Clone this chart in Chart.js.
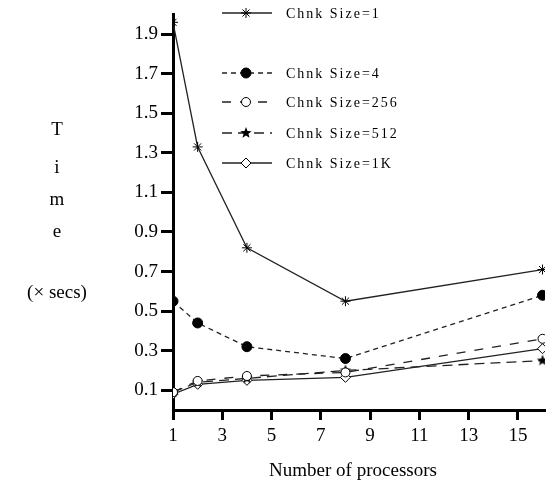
<!DOCTYPE html>
<html lang="en">
<head>
  <meta charset="UTF-8">
  <title>Time vs processors</title>
  <script src="https://cdn.jsdelivr.net/npm/chart.js"></script>
  <style>
    body { margin: 0; background: #fff; }
    #chart { display: block; }
  </style>
</head>
<body>
  <canvas id="chart" width="552" height="495"></canvas>
  <script>
    const procs = [1, 2, 4, 8, 16];
    const chunk1 = [1.96, 1.33, 0.82, 0.55, 0.71];
    const chunk4 = [0.55, 0.44, 0.32, 0.26, 0.58];
    const chunk256 = [0.09, 0.147, 0.172, 0.19, 0.36];
    const chunk512 = [0.09, 0.14, 0.16, 0.20, 0.25];
    const chunk1K = [0.08, 0.13, 0.15, 0.165, 0.31];
    const xTicks = [1, 3, 5, 7, 9, 11, 13, 15];
    const yTicks = [0.1, 0.3, 0.5, 0.7, 0.9, 1.1, 1.3, 1.5, 1.7, 1.9];

    const serif = '"Liberation Serif", "DejaVu Serif", serif';
    const ink = '#222';

    // filled five point star for the 512 series
    function makeStar(r) {
      const c = document.createElement('canvas');
      c.width = c.height = r * 2 + 2;
      const g = c.getContext('2d');
      g.translate(r + 1, r + 1);
      g.beginPath();
      for (let i = 0; i < 10; i++) {
        const rad = i % 2 === 0 ? r : r * 0.42;
        const a = -Math.PI / 2 + i * Math.PI / 5;
        g.lineTo(rad * Math.cos(a), rad * Math.sin(a));
      }
      g.closePath();
      g.fillStyle = '#000';
      g.fill();
      return c;
    }
    const starImg = makeStar(6);

    function pts(ys) {
      return procs.map((x, i) => ({ x: x, y: ys[i] }));
    }

    const datasets = [
      { label: 'Chnk Size=1', data: pts(chunk1), borderDash: [], pointStyle: 'star', pointRadius: 5, pointBackgroundColor: '#000' },
      { label: 'Chnk Size=4', data: pts(chunk4), borderDash: [5, 4], pointStyle: 'circle', pointRadius: 5, pointBackgroundColor: '#000' },
      { label: 'Chnk Size=256', data: pts(chunk256), borderDash: [9, 9], pointStyle: 'circle', pointRadius: 4.5, pointBackgroundColor: '#fff' },
      { label: 'Chnk Size=512', data: pts(chunk512), borderDash: [10, 6], pointStyle: starImg, pointRadius: 6, pointBackgroundColor: '#000' },
      { label: 'Chnk Size=1K', data: pts(chunk1K), borderDash: [], pointStyle: 'rectRot', pointRadius: 5, pointBackgroundColor: '#fff' }
    ].map(ds => Object.assign({
      borderColor: ink,
      borderWidth: 1.3,
      pointBorderColor: '#000',
      pointBorderWidth: 1,
      tension: 0,
      fill: false
    }, ds));

    const legendRows = [13, 73, 102, 133, 163];

    const textPlugin = {
      id: 'textPlugin',
      afterDraw(chart) {
        const ctx = chart.ctx;
        ctx.save();
        // y axis title, letters stacked
        ctx.fillStyle = '#000';
        ctx.font = '19px ' + serif;
        ctx.textAlign = 'center';
        ctx.textBaseline = 'middle';
        [['T', 130], ['i', 168], ['m', 200], ['e', 232], ['(\u00d7 secs)', 293]].forEach(([t, y]) => {
          ctx.fillText(t, 57, y);
        });
        // x axis title
        ctx.fillText('Number of processors', 353, 471);

        // legend
        ctx.font = '14px ' + serif;
        ctx.letterSpacing = '2px';
        ctx.textAlign = 'left';
        chart.data.datasets.forEach((ds, i) => {
          const y = legendRows[i];
          ctx.save();
          ctx.strokeStyle = ds.borderColor;
          ctx.lineWidth = ds.borderWidth;
          ctx.setLineDash(ds.borderDash);
          ctx.beginPath();
          ctx.moveTo(222, y);
          ctx.lineTo(272, y);
          ctx.stroke();
          ctx.restore();

          ctx.save();
          ctx.fillStyle = ds.pointBackgroundColor;
          ctx.strokeStyle = ds.pointBorderColor;
          ctx.lineWidth = ds.pointBorderWidth;
          Chart.helpers.drawPoint(ctx, {
            pointStyle: ds.pointStyle,
            radius: ds.pointRadius,
            rotation: 0,
            borderWidth: ds.pointBorderWidth
          }, 246, y);
          ctx.restore();

          ctx.fillStyle = '#000';
          ctx.fillText(ds.label, 286, y + 1);
        });
        ctx.restore();
      }
    };

    new Chart(document.getElementById('chart'), {
      type: 'line',
      data: { datasets: datasets },
      options: {
        responsive: false,
        animation: false,
        layout: { padding: { top: 12, right: 7, left: 0, bottom: 0 } },
        plugins: { legend: { display: false }, tooltip: { enabled: false } },
        scales: {
          x: {
            type: 'linear',
            min: 1,
            max: 16.1,
            afterBuildTicks: s => { s.ticks = xTicks.map(v => ({ value: v })); },
            afterFit: s => { s.height = 85; },
            border: { display: true, color: '#000', width: 3 },
            grid: { drawOnChartArea: false, drawTicks: true, tickLength: 10, tickWidth: 3, tickColor: '#000' },
            ticks: { color: '#000', padding: 5, maxRotation: 0, font: { family: serif, size: 19 } }
          },
          y: {
            type: 'linear',
            min: 0,
            max: 2.0,
            afterBuildTicks: s => { s.ticks = yTicks.map(v => ({ value: v })); },
            afterFit: s => { s.width = 173; },
            border: { display: true, color: '#000', width: 3 },
            grid: { drawOnChartArea: false, drawTicks: true, tickLength: 12, tickWidth: 3, tickColor: '#000' },
            ticks: { color: '#000', padding: 3, font: { family: serif, size: 19 }, callback: v => v.toFixed(1) }
          }
        }
      },
      plugins: [textPlugin]
    });
  </script>
</body>
</html>
